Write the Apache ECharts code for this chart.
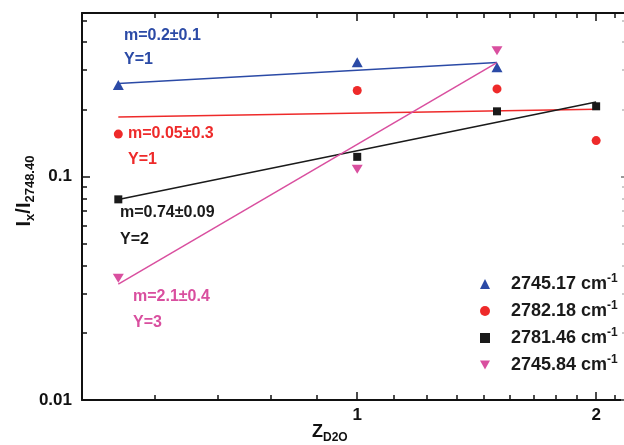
<!DOCTYPE html>
<html>
<head>
<meta charset="utf-8">
<script src="https://cdn.jsdelivr.net/npm/echarts@6/dist/echarts.min.js"></script>
<style>
html,body{margin:0;padding:0;background:#fff;overflow:hidden;}
#chart{width:624px;height:445px;}
</style>
</head>
<body>
<div id="chart"></div>
<script>
// ---- data ----
const zD2O = [0.5, 1, 1.5, 2];
const names = ['2745.17 cm', '2782.18 cm', '2781.46 cm', '2745.84 cm'];
const ratio274517 = [0.257, 0.325, 0.309, null];
const ratio278218 = [0.155, 0.243, 0.247, 0.145];
const ratio278146 = [0.0791, 0.1226, 0.196, 0.2064];
const ratio274584 = [0.0351, 0.1079, 0.366, null];
// fitted power-law lines (end points)
const fit274517 = [[0.5, 0.261], [1.5, 0.324]];
const fit278218 = [[0.5, 0.185], [2, 0.200]];
const fit278146 = [[0.5, 0.079], [2, 0.216]];
const fit274584 = [[0.5, 0.033], [1.5, 0.324]];
// axis ticks
const xMajorTicks = [1, 2];
const xMinorTicks = [5/9, 6/9, 7/9, 8/9, 10/9, 11/9, 12/9, 13/9, 14/9, 15/9, 16/9, 17/9, 19/9];
const yMajorTicks = [0.01, 0.1];
const yMinorTicks = [0.02, 0.03, 0.04, 0.05, 0.06, 0.07, 0.08, 0.09, 0.2, 0.3, 0.4, 0.5];
// annotations
const annTexts = [
  ['m=0.2\u00b10.1', 'Y=1'],
  ['m=0.05\u00b10.3', 'Y=1'],
  ['m=0.74\u00b10.09', 'Y=2'],
  ['m=2.1\u00b10.4', 'Y=3']
];

const colors = ['#2b4aa6', '#ee2a2a', '#1a1a1a', '#d94f9f'];
const FONT = '"Liberation Sans", Arial, sans-serif';
const X_MIN = 0.45, X_MAX = 2.2, Y_MIN = 0.01, Y_MAX = 0.54;

function pairs(vals) {
  const out = [];
  vals.forEach((v, i) => { if (v != null) out.push([zD2O[i], v]); });
  return out;
}

function xAx(pos, ticks, len, showLine, showLabel) {
  return {
    type: 'log', logBase: 10, min: X_MIN, max: X_MAX, position: pos, gridIndex: 0,
    axisLine: { show: showLine, lineStyle: { color: '#111', width: 2 } },
    axisTick: { show: true, inside: true, length: len, customValues: ticks, lineStyle: { color: '#111', width: 1.5 } },
    axisLabel: showLabel ? {
      show: true, customValues: xMajorTicks, margin: 7,
      fontFamily: FONT, fontSize: 17, fontWeight: 'bold', color: '#111',
      formatter: v => String(Math.round(v))
    } : { show: false },
    splitLine: { show: false }, minorTick: { show: false }
  };
}
function yAx(pos, ticks, len, showLine, showLabel, tickColor) {
  return {
    type: 'log', logBase: 10, min: Y_MIN, max: Y_MAX, position: pos, gridIndex: 0,
    axisLine: { show: showLine, lineStyle: { color: '#111', width: 2 } },
    axisTick: { show: true, inside: true, length: len, customValues: ticks, lineStyle: { color: tickColor || '#111', width: 1.5 } },
    axisLabel: showLabel ? {
      show: true, customValues: yMajorTicks, margin: 10,
      fontFamily: FONT, fontSize: 17, fontWeight: 'bold', color: '#111',
      formatter: v => (v < 0.05 ? '0.01' : '0.1')
    } : { show: false },
    splitLine: { show: false }, minorTick: { show: false }
  };
}

const symbols = ['triangle', 'circle', 'rect', 'path://M0,0 L10,0 L5,9 Z'];
const symbolSizes = [[11, 10], 9, 8, [11, 9]];
const ratios = [ratio274517, ratio278218, ratio278146, ratio274584];
const fits = [fit274517, fit278218, fit278146, fit274584];

const series = [];
fits.forEach((f, i) => {
  series.push({
    type: 'line', name: 'fit' + i, data: f, xAxisIndex: 0, yAxisIndex: 0,
    showSymbol: false, symbol: 'none', silent: true, z: 2,
    lineStyle: { color: colors[i], width: 1.5 }
  });
});
ratios.forEach((r, i) => {
  series.push({
    type: 'scatter', name: names[i], data: pairs(r), xAxisIndex: 0, yAxisIndex: 0,
    symbol: symbols[i], symbolSize: symbolSizes[i], z: 5,
    itemStyle: { color: colors[i], opacity: 1 }
  });
});

// annotation positions (left x, centre y of each line)
const annPos = [[124, 36, 60], [128, 134, 160], [120, 213, 240], [133, 297, 323]];
const graphic = [];
annTexts.forEach((t, i) => {
  graphic.push({ type: 'text', x: annPos[i][0], y: annPos[i][1], silent: true,
    style: { text: t[0], fill: colors[i], font: 'bold 16px ' + FONT, verticalAlign: 'middle', align: 'left' } });
  graphic.push({ type: 'text', x: annPos[i][0], y: annPos[i][2], silent: true,
    style: { text: t[1], fill: colors[i], font: 'bold 16px ' + FONT, verticalAlign: 'middle', align: 'left' } });
});
// axis titles
graphic.push({
  type: 'text', x: 24, y: 191, rotation: Math.PI / 2, silent: true,
  style: {
    text: '{m|I}{s|x}{m|/I}{s|2748.40}', align: 'center', verticalAlign: 'middle',
    rich: {
      m: { fontSize: 20, fontWeight: 'bold', fontFamily: FONT, fill: '#111', lineHeight: 26 },
      s: { fontSize: 13, fontWeight: 'bold', fontFamily: FONT, fill: '#111', verticalAlign: 'bottom' }
    }
  }
});
graphic.push({
  type: 'text', x: 312, y: 432, silent: true,
  style: {
    text: '{m|Z}{s|D2O}', align: 'left', verticalAlign: 'middle',
    rich: {
      m: { fontSize: 18, fontWeight: 'bold', fontFamily: FONT, fill: '#111', lineHeight: 24 },
      s: { fontSize: 12, fontWeight: 'bold', fontFamily: FONT, fill: '#111', verticalAlign: 'bottom' }
    }
  }
});

const chart = echarts.init(document.getElementById('chart'), null, { renderer: 'canvas' });
chart.setOption({
  backgroundColor: '#fff',
  animation: false,
  grid: { left: 82, top: 13, width: 547, height: 387, containLabel: false, outerBoundsMode: 'none' },
  xAxis: [
    xAx('bottom', xMajorTicks, 8, true, true),
    xAx('bottom', xMinorTicks, 5, false, false),
    xAx('top', xMajorTicks, 8, true, false),
    xAx('top', xMinorTicks, 5, false, false)
  ],
  yAxis: [
    yAx('left', yMajorTicks, 8, true, true),
    yAx('left', yMinorTicks, 5, false, false),
    yAx('right', yMajorTicks, 8, false, false, '#777'),
    yAx('right', yMinorTicks, 7, false, false, '#bbb')
  ],
  legend: {
    data: names, orient: 'vertical', left: 475, top: 268,
    itemWidth: 10, itemHeight: 10, itemGap: 5,
    formatter: n => '{n|' + n + '}{sup|-1}',
    textStyle: {
      fontFamily: FONT, fontSize: 18, fontWeight: 'bold', color: '#1a1a1a', lineHeight: 22,
      rich: {
        n: { fontSize: 18, fontWeight: 'bold', fontFamily: FONT, color: '#1a1a1a', lineHeight: 22, padding: [0, 0, 0, 16] },
        sup: { fontSize: 12, fontWeight: 'bold', fontFamily: FONT, color: '#1a1a1a', verticalAlign: 'top' }
      }
    }
  },
  series: series,
  graphic: graphic
});
</script>
</body>
</html>
